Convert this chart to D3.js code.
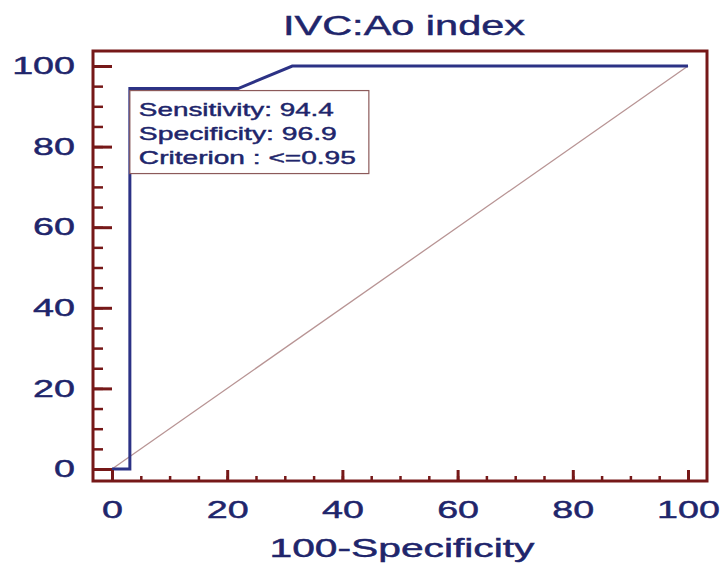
<!DOCTYPE html>
<html>
<head>
<meta charset="utf-8">
<script src="https://cdn.jsdelivr.net/npm/d3@7"></script>
<style>
  body { margin: 0; background: #fff; }
  text { font-family: "Liberation Sans", Arial, sans-serif; fill: #20256b; stroke: #20256b; stroke-width: 0.45px; }
</style>
</head>
<body>
<div id="chart"></div>
<script>
// ROC curve points (100-Specificity, Sensitivity)
var rocX = [0, 3.1, 3.1, 21.9, 31.3, 100];
var rocY = [0, 0, 94.4, 94.4, 100, 100];
// reference diagonal
var diagX = [0, 100];
var diagY = [0, 100];
var tickLabels = [0, 20, 40, 60, 80, 100];
var boxLines = ["Sensitivity: 94.4", "Specificity: 96.9", "Criterion : <=0.95"];
var criterion = {x: 3.1, y: 94.4};

var W = 724, H = 567;
var stretch = 1.57; // picture is stretched sideways
var frameCol = "#761818";

var svg = d3.select("#chart").append("svg")
    .attr("width", W).attr("height", H);

var x = d3.scaleLinear().domain([0, 100]).range([112, 688]);
var y = d3.scaleLinear().domain([0, 100]).range([469, 66]);

var frame = {left: 93, top: 51, right: 707, bottom: 481};

// diagonal
svg.append("path")
    .datum(d3.zip(diagX, diagY))
    .attr("d", d3.line().x(function(d) { return x(d[0]); }).y(function(d) { return y(d[1]); }))
    .attr("fill", "none")
    .attr("stroke", "#b89494")
    .attr("stroke-width", 1.3);

// roc curve
svg.append("path")
    .datum(d3.zip(rocX, rocY))
    .attr("d", d3.line().x(function(d) { return x(d[0]); }).y(function(d) { return y(d[1]); }))
    .attr("fill", "none")
    .attr("stroke", "#2c3285")
    .attr("stroke-width", 3);

// frame
svg.append("rect")
    .attr("x", frame.left).attr("y", frame.top)
    .attr("width", frame.right - frame.left)
    .attr("height", frame.bottom - frame.top)
    .attr("fill", "none")
    .attr("stroke", frameCol)
    .attr("stroke-width", 3);

// minor ticks
var gYm = svg.append("g").attr("transform", "translate(" + frame.left + ",0)")
    .call(d3.axisLeft(y).ticks(20).tickSize(-10).tickFormat(""));
var gXm = svg.append("g").attr("transform", "translate(0," + frame.bottom + ")")
    .call(d3.axisBottom(x).ticks(20).tickSize(-5).tickFormat(""));
[gYm, gXm].forEach(function(g) {
  g.select(".domain").remove();
  g.selectAll("line").attr("stroke", frameCol).attr("stroke-width", 2.5);
});

// major ticks + labels
var gY = svg.append("g").attr("transform", "translate(" + frame.left + ",0)")
    .call(d3.axisLeft(y).tickValues(tickLabels).tickSize(-19).tickPadding(18));
var gX = svg.append("g").attr("transform", "translate(0," + frame.bottom + ")")
    .call(d3.axisBottom(x).tickValues(tickLabels).tickSize(-11).tickPadding(20));
[gY, gX].forEach(function(g) {
  g.select(".domain").remove();
  g.selectAll("line").attr("stroke", frameCol).attr("stroke-width", 3);
  g.selectAll("text")
    .attr("font-size", "24px")
    .attr("fill", "#20256b")
    .attr("font-family", "Liberation Sans, Arial, sans-serif");
});
gY.selectAll("text").each(function() {
  var t = d3.select(this);
  t.attr("x", +t.attr("x") / stretch).attr("transform", "scale(" + stretch + ",1)");
});
gX.selectAll("text").attr("transform", "scale(" + stretch + ",1)");

// annotation box
var bx = x(criterion.x), by = y(criterion.y) + 2;
var box = svg.append("g").attr("transform", "translate(" + bx + "," + by + ")");
box.append("rect")
    .attr("width", 239).attr("height", 83)
    .attr("fill", "#fff")
    .attr("stroke", "#8c5a5a")
    .attr("stroke-width", 1.2);
var boxWidths = [195, 198, 217];
box.selectAll("text.note")
  .data(boxLines)
  .enter()
  .append("text")
    .attr("class", "note")
    .attr("x", 9)
    .attr("y", function(d, i) { return 25 + i * 24; })
    .attr("font-size", "19px")
    .attr("textLength", function(d, i) { return boxWidths[i]; })
    .attr("lengthAdjust", "spacingAndGlyphs")
    .text(function(d) { return d; });

// title
svg.append("text")
    .attr("x", 404).attr("y", 35)
    .attr("text-anchor", "middle")
    .attr("font-size", "27px")
    .attr("textLength", 242)
    .attr("lengthAdjust", "spacingAndGlyphs")
    .text("IVC:Ao index");

// x axis title
svg.append("text")
    .attr("x", 402).attr("y", 557)
    .attr("text-anchor", "middle")
    .attr("font-size", "25px")
    .attr("textLength", 265)
    .attr("lengthAdjust", "spacingAndGlyphs")
    .text("100-Specificity");
</script>
</body>
</html>
